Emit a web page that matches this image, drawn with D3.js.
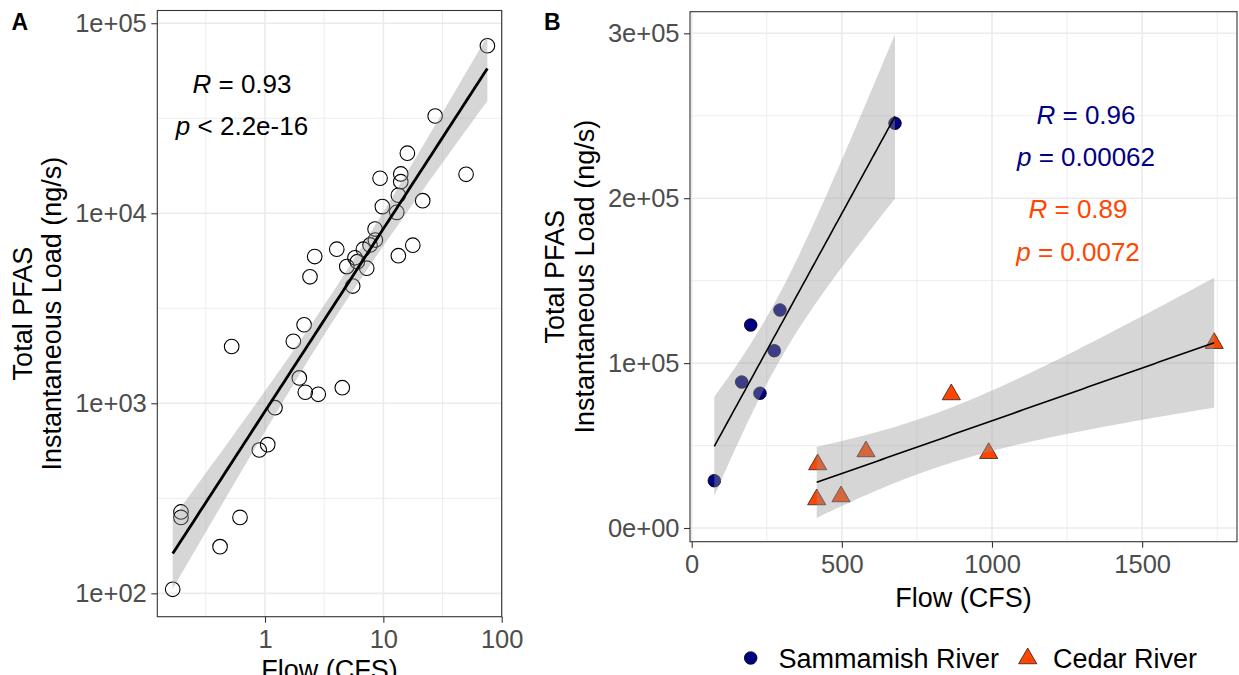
<!DOCTYPE html>
<html>
<head>
<meta charset="utf-8">
<script src="https://cdn.jsdelivr.net/npm/d3@7"></script>
<style>
  body { margin: 0; background: #fff; }
  svg { display: block; }
  text { font-family: "Liberation Sans", Arial, Helvetica, sans-serif; }
</style>
</head>
<body>
<svg id="chart" width="1239" height="675"></svg>
<script>
// ---- Panel A: all sampling events, flow vs total PFAS load (log-log) ----
const flowA = [75.7, 27.4, 50.0, 15.96, 9.38, 14.03, 14.03, 21.5, 13.39, 9.81,
               12.98, 8.51, 7.72, 8.56, 6.78, 5.76, 6.03, 4.91, 7.24, 5.51,
               4.04, 2.63, 2.40, 13.39, 17.73, 2.14, 1.735, 0.523, 1.95, 2.19,
               2.82, 4.50, 1.215, 1.054, 0.895, 0.195, 0.195, 0.615, 0.417, 0.166];
const loadA = [76100, 32500, 16030, 20700, 15280, 16100, 14660, 11650, 12440, 10840,
               10110, 8260, 6810, 7230, 6470, 5830, 5560, 5240, 5140, 4140,
               6470, 5920, 4630, 5980, 6790, 2590, 2120, 1990, 1360, 1143,
               1115, 1208, 948, 606, 568, 268, 251, 251, 176, 105];

// ---- Panel B: per-river linear relationships ----
const sammamishFlow = [677, 196.5, 294, 275, 166.5, 227.4, 75.3];
const sammamishLoad = [245420, 123100, 132200, 107520, 88540, 81690, 28680];
const cedarFlow = [1740, 864.5, 580.4, 989, 419.6, 416.3, 497.2];
const cedarLoad = [112070, 80960, 46390, 45360, 38510, 17280, 19100];

// ---- Axis ticks and labels ----
const ticksAX = [1, 10, 100];
const tickLabelsAX = ["1", "10", "100"];
const ticksAY = [1e2, 1e3, 1e4, 1e5];
const tickLabelsAY = ["1e+02", "1e+03", "1e+04", "1e+05"];
const ticksBX = [0, 500, 1000, 1500];
const tickLabelsBX = ["0", "500", "1000", "1500"];
const ticksBY = [0, 1e5, 2e5, 3e5];
const tickLabelsBY = ["0e+00", "1e+05", "2e+05", "3e+05"];

// ---- Correlation annotations ----
const statsA = [["R", " = 0.93"], ["p", " < 2.2e-16"]];
const statsSammamish = [["R", " = 0.96"], ["p", " = 0.00062"]];
const statsCedar = [["R", " = 0.89"], ["p", " = 0.0072"]];

const seriesNames = ["Sammamish River", "Cedar River"];
const seriesColors = ["#000080", "#FF4500"];

const svg = d3.select("#chart");

// Layout
const pA = { left: 157.3, right: 501.7, top: 10.5, bottom: 616.7 };
const pB = { left: 690, right: 1237, top: 11.7, bottom: 541.7 };

const xA = d3.scaleLog().domain([Math.pow(10, -0.910), 100]).range([pA.left, pA.right]);
const yA = d3.scaleLog().domain([Math.pow(10, 1.877), Math.pow(10, 5.067)]).range([pA.bottom, pA.top]);
const xB = d3.scaleLinear().domain([-5.66, 1815.9]).range([pB.left, pB.right]);
const yB = d3.scaleLinear().domain([-8308, 313100]).range([pB.bottom, pB.top]);

// Student t quantile (0.975) via Cornish-Fisher expansion
function tQuant(df) {
  const z = 1.959964;
  const z3 = z ** 3, z5 = z ** 5, z7 = z ** 7, z9 = z ** 9;
  return z + (z3 + z) / (4 * df)
    + (5 * z5 + 16 * z3 + 3 * z) / (96 * df * df)
    + (3 * z7 + 19 * z5 + 17 * z3 - 15 * z) / (384 * df ** 3)
    + (79 * z9 + 776 * z7 + 1482 * z5 - 1920 * z3 - 945 * z) / (92160 * df ** 4);
}

// Ordinary least squares fit with 95% confidence band for the mean
function lmBand(xs, ys, n = 80) {
  const N = xs.length, mx = d3.mean(xs), my = d3.mean(ys);
  let sxx = 0, sxy = 0;
  xs.forEach((x, i) => { sxx += (x - mx) ** 2; sxy += (x - mx) * (ys[i] - my); });
  const b = sxy / sxx, a = my - b * mx;
  let sse = 0;
  xs.forEach((x, i) => { sse += (ys[i] - a - b * x) ** 2; });
  const s = Math.sqrt(sse / (N - 2));
  const t = tQuant(N - 2);
  const [x0, x1] = d3.extent(xs);
  return d3.range(n).map(i => {
    const x = x0 + (x1 - x0) * i / (n - 1);
    const fit = a + b * x;
    const se = s * Math.sqrt(1 / N + (x - mx) ** 2 / sxx);
    return { x, fit, lo: fit - t * se, hi: fit + t * se };
  });
}

const defs = svg.append("defs");
function clip(id, p) {
  defs.append("clipPath").attr("id", id)
    .append("rect").attr("x", p.left).attr("y", p.top)
    .attr("width", p.right - p.left).attr("height", p.bottom - p.top);
}
clip("clipA", pA);
clip("clipB", pB);

const GRID = "#EBEBEB";

function gridLines(g, p, xs, ys, xScale, yScale, width) {
  g.selectAll(null).data(xs).enter().append("line")
    .attr("x1", d => xScale(d)).attr("x2", d => xScale(d))
    .attr("y1", p.top).attr("y2", p.bottom)
    .attr("stroke", GRID).attr("stroke-width", width);
  g.selectAll(null).data(ys).enter().append("line")
    .attr("y1", d => yScale(d)).attr("y2", d => yScale(d))
    .attr("x1", p.left).attr("x2", p.right)
    .attr("stroke", GRID).attr("stroke-width", width);
}

function styleAxis(g) {
  g.select(".domain").remove();
  g.selectAll(".tick line").attr("stroke", "#333333").attr("stroke-width", 1.1);
  g.selectAll(".tick text").attr("fill", "#4D4D4D").style("font-size", "25.5px")
    .style("font-family", '"Liberation Sans", Arial, sans-serif');
}

function statLabel(g, x, y0, lines, color) {
  lines.forEach((ln, i) => {
    const t = g.append("text").attr("x", x).attr("y", y0 + i * 42.3)
      .attr("text-anchor", "middle").attr("fill", color).style("font-size", "26px");
    t.append("tspan").attr("font-style", "italic").text(ln[0]);
    t.append("tspan").text(ln[1]);
  });
}

// ================= Panel A =================
const gA = svg.append("g");
gridLines(gA, pA, [Math.pow(10, -0.5), Math.pow(10, 0.5), Math.pow(10, 1.5)],
  [Math.pow(10, 2.5), Math.pow(10, 3.5), Math.pow(10, 4.5)], xA, yA, 0.9);
gridLines(gA, pA, ticksAX, ticksAY, xA, yA, 1.6);

const plotA = gA.append("g").attr("clip-path", "url(#clipA)");
plotA.selectAll("circle").data(flowA.map((f, i) => [f, loadA[i]])).enter().append("circle")
  .attr("cx", d => xA(d[0])).attr("cy", d => yA(d[1])).attr("r", 7.3)
  .attr("fill", "none").attr("stroke", "#000").attr("stroke-width", 1.1);

const bandA = lmBand(flowA.map(Math.log10), loadA.map(Math.log10));
plotA.append("path").datum(bandA)
  .attr("d", d3.area().x(d => xA(10 ** d.x)).y0(d => yA(10 ** d.lo)).y1(d => yA(10 ** d.hi)))
  .attr("fill", "#999999").attr("fill-opacity", 0.4);
plotA.append("path").datum(bandA)
  .attr("d", d3.line().x(d => xA(10 ** d.x)).y(d => yA(10 ** d.fit)))
  .attr("fill", "none").attr("stroke", "#000").attr("stroke-width", 2.8);

statLabel(gA, 242, 92.7, statsA, "#000");

gA.append("rect").attr("x", pA.left).attr("y", pA.top)
  .attr("width", pA.right - pA.left).attr("height", pA.bottom - pA.top)
  .attr("fill", "none").attr("stroke", "#333333").attr("stroke-width", 1.1);

gA.append("g").attr("transform", `translate(0,${pA.bottom})`)
  .call(d3.axisBottom(xA).tickValues(ticksAX).tickFormat((d, i) => tickLabelsAX[i]).tickSize(6).tickPadding(7.7))
  .call(styleAxis);
gA.append("g").attr("transform", `translate(${pA.left},0)`)
  .call(d3.axisLeft(yA).tickValues(ticksAY).tickFormat((d, i) => tickLabelsAY[i]).tickSize(6).tickPadding(4.5))
  .call(styleAxis);

// ================= Panel B =================
const gB = svg.append("g");
gridLines(gB, pB, [250, 750, 1250, 1750], [5e4, 1.5e5, 2.5e5], xB, yB, 0.9);
gridLines(gB, pB, ticksBX, ticksBY, xB, yB, 1.6);

const plotB = gB.append("g").attr("clip-path", "url(#clipB)");
const triangle = d3.symbol().type(d3.symbolTriangle).size(143);

plotB.selectAll("circle.sam").data(sammamishFlow.map((f, i) => [f, sammamishLoad[i]])).enter()
  .append("circle").attr("class", "sam")
  .attr("cx", d => xB(d[0])).attr("cy", d => yB(d[1])).attr("r", 6.3)
  .attr("fill", seriesColors[0]).attr("stroke", "#000").attr("stroke-width", 0.8);
plotB.selectAll("path.ced").data(cedarFlow.map((f, i) => [f, cedarLoad[i]])).enter()
  .append("path").attr("class", "ced")
  .attr("transform", d => `translate(${xB(d[0])},${yB(d[1])})`)
  .attr("d", triangle)
  .attr("fill", seriesColors[1]).attr("stroke", "#222").attr("stroke-width", 0.8);

[[sammamishFlow, sammamishLoad], [cedarFlow, cedarLoad]].forEach(([xs, ys]) => {
  const band = lmBand(xs, ys);
  plotB.append("path").datum(band)
    .attr("d", d3.area().x(d => xB(d.x)).y0(d => yB(d.lo)).y1(d => yB(d.hi)))
    .attr("fill", "#999999").attr("fill-opacity", 0.4);
  plotB.append("path").datum(band)
    .attr("d", d3.line().x(d => xB(d.x)).y(d => yB(d.fit)))
    .attr("fill", "none").attr("stroke", "#000").attr("stroke-width", 1.6);
});

statLabel(gB, 1086, 124, statsSammamish, seriesColors[0]);
statLabel(gB, 1078, 218.3, statsCedar, seriesColors[1]);

gB.append("rect").attr("x", pB.left).attr("y", pB.top)
  .attr("width", pB.right - pB.left).attr("height", pB.bottom - pB.top)
  .attr("fill", "none").attr("stroke", "#333333").attr("stroke-width", 1.1);

gB.append("g").attr("transform", `translate(0,${pB.bottom})`)
  .call(d3.axisBottom(xB).tickValues(ticksBX).tickFormat((d, i) => tickLabelsBX[i]).tickSize(6).tickPadding(7.7))
  .call(styleAxis);
gB.append("g").attr("transform", `translate(${pB.left},0)`)
  .call(d3.axisLeft(yB).tickValues(ticksBY).tickFormat((d, i) => tickLabelsBY[i]).tickSize(6).tickPadding(4.5))
  .call(styleAxis);

// ================= Titles =================
function yTitle(p) {
  const cy = (p.top + p.bottom) / 2;
  [["Total PFAS", p.left - 125.6], ["Instantaneous Load (ng/s)", p.left - 96.3]].forEach(([txt, bx]) => {
    svg.append("text").attr("transform", `translate(${bx},${cy}) rotate(-90)`)
      .attr("text-anchor", "middle").style("font-size", "27px").attr("fill", "#000").text(txt);
  });
}
yTitle(pA);
yTitle(pB);

svg.append("text").attr("x", (pA.left + pA.right) / 2).attr("y", pA.bottom + 62)
  .attr("text-anchor", "middle").style("font-size", "27px").text("Flow (CFS)");
svg.append("text").attr("x", (pB.left + pB.right) / 2).attr("y", pB.bottom + 65.3)
  .attr("text-anchor", "middle").style("font-size", "27px").text("Flow (CFS)");

svg.append("text").attr("x", 11.5).attr("y", 30).style("font-size", "23px")
  .style("font-weight", "bold").text("A");
svg.append("text").attr("x", 544).attr("y", 30).style("font-size", "23px")
  .style("font-weight", "bold").text("B");

// ================= Legend =================
const legend = svg.append("g");
legend.append("circle").attr("cx", 750.7).attr("cy", 658).attr("r", 6.3)
  .attr("fill", seriesColors[0]).attr("stroke", "#000").attr("stroke-width", 0.8);
legend.append("text").attr("x", 778.4).attr("y", 667.7).style("font-size", "27px").text(seriesNames[0]);
legend.append("path").attr("transform", "translate(1027.7,658.5)").attr("d", triangle)
  .attr("fill", seriesColors[1]).attr("stroke", "#222").attr("stroke-width", 0.8);
legend.append("text").attr("x", 1053).attr("y", 667.7).style("font-size", "27px").text(seriesNames[1]);
</script>
</body>
</html>
